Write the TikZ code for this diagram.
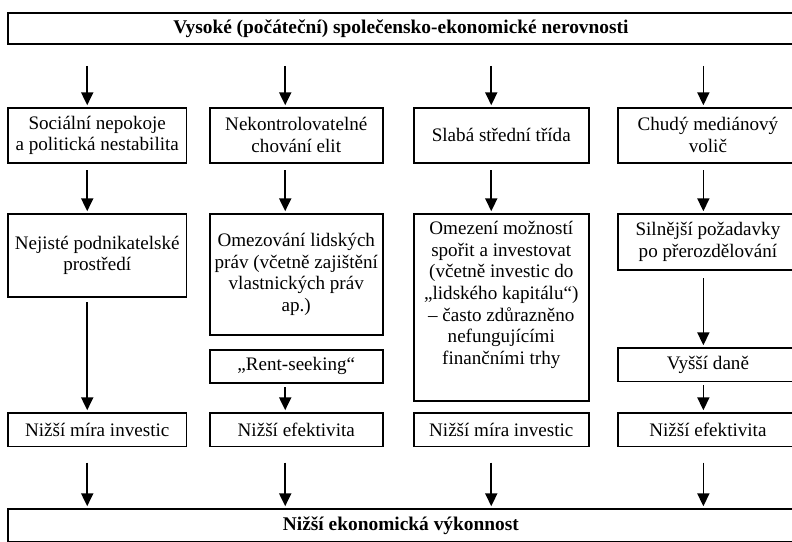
\documentclass[tikz,border=0pt]{standalone}
\usepackage{fontspec}
\setmainfont{Liberation Serif}
\usetikzlibrary{calc,positioning,arrows.meta}
\tikzset{
	>={Triangle[width=8pt,length=8.5pt]},
	blok/.style={
		rectangle,
		draw=black, line width=1pt,
		align=center,
		anchor=north west,
		inner sep=2pt,
		font=\fontsize{12.6}{14.3}\selectfont},
	titulek/.style={
		blok,
		font=\bfseries\fontsize{12.8}{14.3}\selectfont,
		minimum width=530pt},
	sl1/.style={blok, minimum width=118.1pt},
	sl2/.style={blok, minimum width=114.2pt},
	sl3/.style={blok, minimum width=115.5pt},
	sl4/.style={blok, minimum width=119pt},
	sipka/.style={draw, line width=1.1pt, ->, shorten >=1.2pt},
}

\begin{document}
\begin{tikzpicture}[x=0.66pt,y=-0.66pt]
	\useasboundingbox (0,0) rectangle (792,541);
	\clip (0,0) rectangle (792,541);
	% horni a dolni pas
	\node[titulek, minimum height=20.5pt] (top) at (7,12) {\hspace*{-11pt}Vysoké (počáteční) společensko-ekonomické nerovnosti};
	\node[titulek, minimum height=21.8pt] (bottom) at (7,508) {\hspace*{-11pt}Nižší ekonomická výkonnost};
	% prvni rada
	\node[sl1, minimum height=36.3pt] (s1) at (7,107) {Sociální nepokoje\\a politická nestabilita};
	\node[sl2, minimum height=36.3pt] (s2) at (209,107) {Nekontrolovatelné\\chování elit};
	\node[sl3, minimum height=36.3pt] (s3) at (413,107) {Slabá střední třída};
	\node[sl4, minimum height=36.3pt] (s4) at (617,107) {Chudý mediánový\\volič};
	% druha rada
	\node[sl1, minimum height=54.8pt] (r1) at (7,213) {Nejisté podnikatelské\\prostředí};
	\node[sl2, minimum height=79.9pt] (r2) at (209,213) {Omezování lidských\\práv (včetně zajištění\\vlastnických práv\\ap.)};
	\node[sl3, inner ysep=5pt] (r3) at (413,213) {Omezení možností\\spořit a investovat\\(včetně investic do\\„lidského kapitálu“)\\– často zdůrazněno\\nefungujícími\\finančními trhy\rule[-19pt]{0pt}{19pt}};
	\node[sl4, minimum height=37pt] (r4) at (617,213) {Silnější požadavky\\po přerozdělování};
	\node[sl2, minimum height=21.8pt] (rent) at (209,349) {„Rent-seeking“};
	\node[sl4, minimum height=22.4pt] (vys) at (617,347) {Vyšší daně};
	% treti rada
	\node[sl1, minimum height=22.4pt] (n1) at (7,412) {Nižší míra investic};
	\node[sl2, minimum height=22.4pt] (n2) at (209,412) {Nižší efektivita};
	\node[sl3, minimum height=22.4pt] (n3) at (413,412) {Nižší míra investic};
	\node[sl4, minimum height=22.4pt] (n4) at (617,412) {Nižší efektivita};
	% sipky
	\draw[sipka] ($(s1.north |- top.south)+(-6.6pt,-14pt)$) -- ([xshift=-6.6pt]s1.north);
	\draw[sipka] ($(s2.north |- top.south)+(-7.3pt,-14pt)$) -- ([xshift=-7.3pt]s2.north);
	\draw[sipka] ($(s3.north |- top.south)+(-6.6pt,-14pt)$) -- ([xshift=-6.6pt]s3.north);
	\draw[sipka] ($(s4.north |- top.south)+(-3pt,-14pt)$) -- ([xshift=-3pt]s4.north);
	\draw[sipka] ([xshift=-6.6pt,yshift=-4.6pt]s1.south) -- ([xshift=-6.6pt]r1.north);
	\draw[sipka] ([xshift=-7.3pt,yshift=-4.6pt]s2.south) -- ([xshift=-7.3pt]r2.north);
	\draw[sipka] ([xshift=-6.6pt,yshift=-4.6pt]s3.south) -- ([xshift=-6.6pt]r3.north);
	\draw[sipka] ([xshift=-3pt,yshift=-4.6pt]s4.south) -- ([xshift=-3pt]r4.north);
	\draw[sipka] ([xshift=-6.6pt,yshift=-3pt]r1.south) -- ([xshift=-6.6pt]n1.north);
	\draw[sipka] ([xshift=-7.3pt,yshift=-2.6pt]rent.south) -- ([xshift=-7.3pt]n2.north);
	\draw[sipka] ([xshift=-3pt,yshift=-5pt]r4.south) -- ([xshift=-3pt]vys.north);
	\draw[sipka] ([xshift=-3pt,yshift=-2pt]vys.south) -- ([xshift=-3pt]n4.north);
	\draw[sipka] ([xshift=-6.6pt,yshift=-10pt]n1.south) -- ($(n1.south |- bottom.north)+(-6.6pt,0)$);
	\draw[sipka] ([xshift=-7.3pt,yshift=-10pt]n2.south) -- ($(n2.south |- bottom.north)+(-7.3pt,0)$);
	\draw[sipka] ([xshift=-6.6pt,yshift=-10pt]n3.south) -- ($(n3.south |- bottom.north)+(-6.6pt,0)$);
	\draw[sipka] ([xshift=-3pt,yshift=-10pt]n4.south) -- ($(n4.south |- bottom.north)+(-3pt,0)$);
\end{tikzpicture}
\end{document}
